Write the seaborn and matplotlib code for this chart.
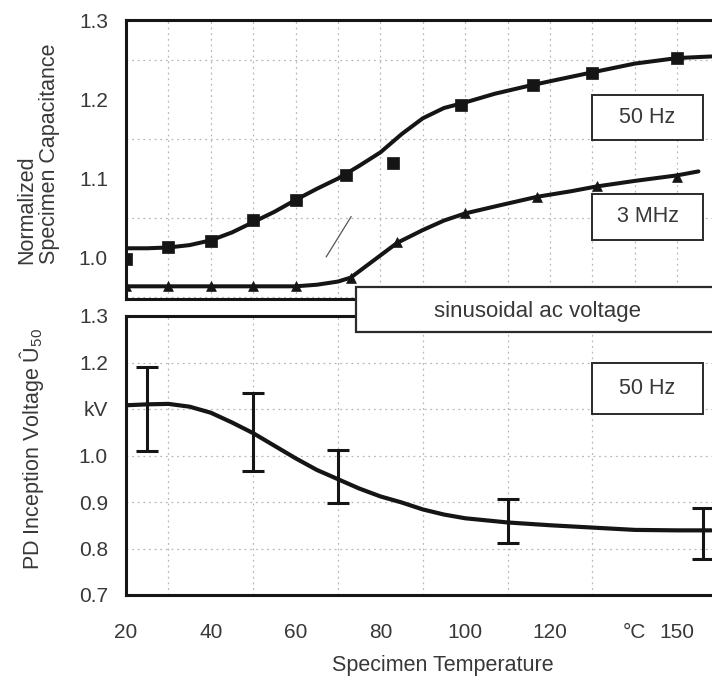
import numpy as np
import pandas as pd
import matplotlib
matplotlib.use("Agg")
import matplotlib.pyplot as plt
import matplotlib.patches as mpatches
import seaborn as sns

# ---- measured capacitance (normalized) ----
temp_50hz_pts = [20, 30, 40, 50, 60, 72, 83, 99, 116, 130, 150]
cap_50hz_pts = [0.999, 1.014, 1.021, 1.048, 1.073, 1.104, 1.120, 1.193, 1.218, 1.233, 1.252]

temp_3mhz_pts = [20, 30, 40, 50, 60, 73, 84, 100, 117, 131, 150]
cap_3mhz_pts = [0.965, 0.965, 0.965, 0.965, 0.965, 0.975, 1.020, 1.057, 1.077, 1.090, 1.102]

# ---- fitted capacitance curves ----
temp_50hz_fit = [20, 25, 30, 35, 40, 45, 50, 55, 60, 65, 70, 75, 80, 85, 90, 95,
                 100, 107, 115, 122, 130, 140, 150, 158]
cap_50hz_fit = [1.012, 1.012, 1.013, 1.016, 1.022, 1.032, 1.045, 1.058, 1.073, 1.087,
                1.100, 1.116, 1.133, 1.156, 1.176, 1.189, 1.196, 1.207, 1.217, 1.225,
                1.234, 1.245, 1.252, 1.254]

temp_3mhz_fit = [20, 30, 40, 50, 60, 65, 70, 73, 76, 80, 84, 90, 95, 100, 108, 117,
                 125, 131, 140, 150, 155]
cap_3mhz_fit = [0.964, 0.964, 0.964, 0.964, 0.964, 0.966, 0.970, 0.975, 0.987, 1.003,
                1.019, 1.035, 1.047, 1.056, 1.066, 1.077, 1.084, 1.090, 1.097, 1.104,
                1.109]

# ---- PD inception voltage (kV) ----
temp_pd_fit = [20, 25, 30, 35, 40, 45, 50, 55, 60, 65, 70, 75, 80, 85, 90, 95, 100,
               110, 120, 130, 140, 150, 158]
pd_fit = [1.108, 1.110, 1.111, 1.105, 1.092, 1.071, 1.048, 1.021, 0.994, 0.969, 0.949,
          0.929, 0.912, 0.899, 0.884, 0.873, 0.865, 0.856, 0.850, 0.845, 0.840, 0.839,
          0.839]

temp_pd_bars = [25, 50, 70, 110, 156]
pd_low = [1.009, 0.966, 0.897, 0.811, 0.778]
pd_high = [1.191, 1.135, 1.011, 0.907, 0.888]

x_ticks = [20, 40, 60, 80, 100, 120, 140, 150]
x_ticklabels = ["20", "40", "60", "80", "100", "120", "°C", "150"]
top_yticks = [1.0, 1.1, 1.2, 1.3]
top_yticklabels = ["1.0", "1.1", "1.2", "1.3"]
bot_yticks = [0.7, 0.8, 0.9, 1.0, 1.1, 1.2, 1.3]
bot_yticklabels = ["0.7", "0.8", "0.9", "1.0", "kV", "1.2", "1.3"]

sns.set_style("white")
plt.rcParams["font.family"] = ["Liberation Sans", "DejaVu Sans"]
plt.rcParams["mathtext.fontset"] = "custom"
plt.rcParams["mathtext.rm"] = "Liberation Sans"
plt.rcParams["mathtext.it"] = "Liberation Sans:italic"

TXT = "#383838"
INK = "#151515"
GRID = "#b8b8b8"
GRID_LS = (0, (1.5, 3))

W, H = 712, 682
fig = plt.figure(figsize=(W / 100, H / 100), dpi=100)


def frac_box(left, top, right, bottom):
    return [left / W, 1 - bottom / H, (right - left) / W, (bottom - top) / H]


ax1 = fig.add_axes(frac_box(126, 20, 712, 299))
ax2 = fig.add_axes(frac_box(126, 316, 712, 595))

XLIM = (20, 158.2)

# ---------- top panel: capacitance ----------
sns.lineplot(x=temp_50hz_fit, y=cap_50hz_fit, ax=ax1, color=INK, lw=2.9,
             sort=False, zorder=4)
sns.lineplot(x=temp_3mhz_fit, y=cap_3mhz_fit, ax=ax1, color=INK, lw=2.9,
             sort=False, zorder=4)
sns.scatterplot(x=temp_50hz_pts, y=cap_50hz_pts, ax=ax1, marker="s", s=85,
                color=INK, edgecolor=INK, linewidth=0.5, zorder=5)
sns.scatterplot(x=temp_3mhz_pts, y=cap_3mhz_pts, ax=ax1, marker="^", s=50,
                color=INK, edgecolor=INK, linewidth=0.5, zorder=5)
ax1.plot([67.2, 73.1], [1.001, 1.052], color="#555555", lw=0.9, zorder=3)

ax1.set_xlim(*XLIM)
ax1.set_ylim(0.948, 1.300)
ax1.set_xticks(np.arange(30, 160, 10))
ax1.set_xticklabels([])
ax1.set_yticks(top_yticks)
ax1.set_yticklabels(top_yticklabels)
ax1.set_yticks(np.arange(0.95, 1.30, 0.05), minor=True)
ax1.grid(False)
ax1.grid(True, which="major", axis="x", color=GRID, lw=0.9, ls=GRID_LS)
ax1.grid(True, which="minor", axis="y", color=GRID, lw=0.9, ls=GRID_LS)

# ---------- bottom panel: PD inception voltage ----------
sns.lineplot(x=temp_pd_fit, y=pd_fit, ax=ax2, color=INK, lw=3.0, sort=False, zorder=4)
mid = (np.array(pd_low) + np.array(pd_high)) / 2
half = (np.array(pd_high) - np.array(pd_low)) / 2
ax2.errorbar(temp_pd_bars, mid, yerr=half, fmt="none", ecolor=INK, elinewidth=2.2,
             capsize=8, capthick=2.2, zorder=5)

ax2.set_xlim(*XLIM)
ax2.set_ylim(0.7, 1.3)
ax2.set_xticks(x_ticks)
ax2.set_xticklabels(x_ticklabels)
ax2.set_yticks(bot_yticks)
ax2.set_yticklabels(bot_yticklabels)
ax2.set_xticks(np.arange(30, 160, 10), minor=True)
ax2.grid(False)
ax2.grid(True, which="minor", axis="x", color=GRID, lw=0.9, ls=GRID_LS)
ax2.grid(True, which="major", axis="y", color=GRID, lw=0.9, ls=GRID_LS)

for ax in (ax1, ax2):
    ax.set_facecolor("white")
    for side in ("left", "top", "bottom"):
        ax.spines[side].set_visible(True)
        ax.spines[side].set_linewidth(2.2)
        ax.spines[side].set_color(INK)
    ax.spines["right"].set_visible(False)
    ax.tick_params(axis="both", which="both", length=0, labelsize=15,
                   labelcolor=TXT)
    ax.tick_params(axis="y", pad=13)
    ax.set_xlabel("")
    ax.set_ylabel("")
ax2.tick_params(axis="x", pad=20)

# ---------- labelled frames ----------
def frame(ax, x0, x1, y0, y1, label):
    ax.add_patch(mpatches.Rectangle((x0, y0), x1 - x0, y1 - y0, facecolor="white",
                                    edgecolor="#2a2a2a", lw=1.4, zorder=6))
    ax.text((x0 + x1) / 2, (y0 + y1) / 2, label, ha="center", va="center",
            fontsize=15.5, color=TXT, zorder=7)

frame(ax1, 129.9, 156.1, 1.149, 1.206, "50 Hz")
frame(ax1, 129.9, 156.1, 1.023, 1.080, "3 MHz")
frame(ax2, 129.9, 156.1, 1.090, 1.198, "50 Hz")

# banner between the panels
fig.add_artist(mpatches.Rectangle((356 / W, 1 - 332 / H), 400 / W, 45 / H,
                                  transform=fig.transFigure, facecolor="white",
                                  edgecolor="#2a2a2a", lw=1.6, zorder=10))
fig.text(537 / W, 1 - 311 / H, "sinusoidal ac voltage", ha="center", va="center",
         fontsize=16, color=TXT, zorder=11)

# ---------- axis titles ----------
fig.text(38 / W, 1 - 264 / H, "Normalized\nSpecimen Capacitance", rotation=90,
         ha="center", va="bottom", multialignment="left", fontsize=15.5,
         color=TXT, linespacing=1.12)
fig.text(32 / W, 1 - 449 / H, "PD Inception Voltage Û$_{50}$", rotation=90,
         ha="center", va="center", fontsize=15.5, color=TXT)
fig.text(443 / W, 1 - 665 / H, "Specimen Temperature", ha="center", va="center",
         fontsize=15.5, color=TXT)

fig.savefig("out.png", dpi=100, facecolor="white")
